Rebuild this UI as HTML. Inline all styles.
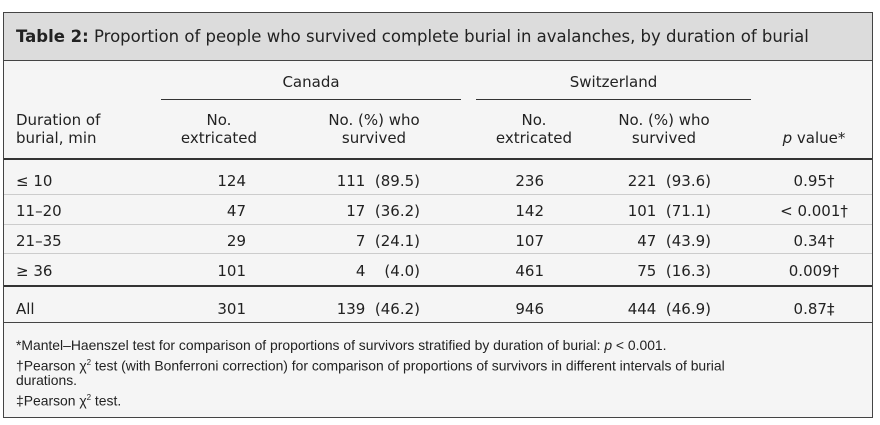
<!DOCTYPE html>
<html><head><style>
body{margin:0;background:#fff;}
#t{position:absolute;left:3px;top:12px;width:868px;height:404px;border:1.5px solid #444;background:#f5f5f5;font-family:"DejaVu Sans","Liberation Sans",sans-serif;color:#222;overflow:hidden}
.a{position:absolute;white-space:nowrap;font-size:15px;line-height:18px}
.r{text-align:right}
.c{text-align:center}
.hl{position:absolute;height:0}
.fn{position:absolute;left:12px;font-family:"Liberation Sans",sans-serif;font-size:13.9px;line-height:17.5px;white-space:nowrap}
</style></head><body>
<div id="t">
<div style="position:absolute;left:0;top:0;width:100%;height:47px;background:#dcdcdc;border-bottom:1.5px solid #444"></div>
<div class="a" style="left:12px;top:14px;font-size:16.5px;line-height:20px"><b>Table 2:</b> Proportion of people who survived complete burial in avalanches, by duration of burial</div>

<div class="a c" style="left:157px;width:300px;top:60px">Canada</div>
<div class="a c" style="left:472px;width:275px;top:60px">Switzerland</div>
<div class="hl" style="left:157px;width:300px;top:86px;border-top:1.5px solid #333"></div>
<div class="hl" style="left:472px;width:275px;top:86px;border-top:1.5px solid #333"></div>

<div class="a" style="left:12px;top:98px">Duration of<br>burial, min</div>
<div class="a c" style="left:165px;width:100px;top:98px">No.<br>extricated</div>
<div class="a c" style="left:310px;width:120px;top:98px">No. (%) who<br>survived</div>
<div class="a c" style="left:480px;width:100px;top:98px">No.<br>extricated</div>
<div class="a c" style="left:600px;width:120px;top:98px">No. (%) who<br>survived</div>
<div class="a c" style="left:760px;width:100px;top:116px"><i>p</i> value*</div>
<div class="hl" style="left:0;width:100%;top:145px;border-top:2px solid #333"></div>

<div class="hl" style="left:0;width:100%;top:181px;border-top:1.5px solid #ccc"></div>
<div class="hl" style="left:0;width:100%;top:211px;border-top:1.5px solid #ccc"></div>
<div class="hl" style="left:0;width:100%;top:240px;border-top:1.5px solid #ccc"></div>
<div class="hl" style="left:0;width:100%;top:272px;border-top:2px solid #333"></div>
<div class="hl" style="left:0;width:100%;top:309px;border-top:1.5px solid #444"></div>

<div class="a" style="left:12px;top:159px">≤ 10</div>
<div class="a" style="left:12px;top:189px">11–20</div>
<div class="a" style="left:12px;top:219px">21–35</div>
<div class="a" style="left:12px;top:249px">≥ 36</div>
<div class="a" style="left:12px;top:287px">All</div>

<div class="a r" style="left:140px;width:102px;top:159px">124</div>
<div class="a r" style="left:140px;width:102px;top:189px">47</div>
<div class="a r" style="left:140px;width:102px;top:219px">29</div>
<div class="a r" style="left:140px;width:102px;top:249px">101</div>
<div class="a r" style="left:140px;width:102px;top:287px">301</div>

<div class="a r" style="left:300px;width:116px;top:159px">111&nbsp; (89.5)</div>
<div class="a r" style="left:300px;width:116px;top:189px">17&nbsp; (36.2)</div>
<div class="a r" style="left:300px;width:116px;top:219px">7&nbsp; (24.1)</div>
<div class="a r" style="left:300px;width:116px;top:249px">4&nbsp;&nbsp;&nbsp; (4.0)</div>
<div class="a r" style="left:300px;width:116px;top:287px">139&nbsp; (46.2)</div>

<div class="a r" style="left:440px;width:100px;top:159px">236</div>
<div class="a r" style="left:440px;width:100px;top:189px">142</div>
<div class="a r" style="left:440px;width:100px;top:219px">107</div>
<div class="a r" style="left:440px;width:100px;top:249px">461</div>
<div class="a r" style="left:440px;width:100px;top:287px">946</div>

<div class="a r" style="left:590px;width:117px;top:159px">221&nbsp; (93.6)</div>
<div class="a r" style="left:590px;width:117px;top:189px">101&nbsp; (71.1)</div>
<div class="a r" style="left:590px;width:117px;top:219px">47&nbsp; (43.9)</div>
<div class="a r" style="left:590px;width:117px;top:249px">75&nbsp; (16.3)</div>
<div class="a r" style="left:590px;width:117px;top:287px">444&nbsp; (46.9)</div>

<div class="a c" style="left:760px;width:100px;top:159px">0.95†</div>
<div class="a c" style="left:760px;width:100px;top:189px">&lt; 0.001†</div>
<div class="a c" style="left:760px;width:100px;top:219px">0.34†</div>
<div class="a c" style="left:760px;width:100px;top:249px">0.009†</div>
<div class="a c" style="left:760px;width:100px;top:287px">0.87‡</div>

<div class="fn" style="top:324px">*Mantel–Haenszel test for comparison of proportions of survivors stratified by duration of burial: <i>p</i> &lt; 0.001.</div>
<div class="fn" style="top:341px">†Pearson χ<sup style="font-size:8px">2</sup> test (with Bonferroni correction) for comparison of proportions of survivors in different intervals of burial</div>
<div class="fn" style="top:359px">durations.</div>
<div class="fn" style="top:376px">‡Pearson χ<sup style="font-size:8px">2</sup> test.</div>
</div>
</body></html>
